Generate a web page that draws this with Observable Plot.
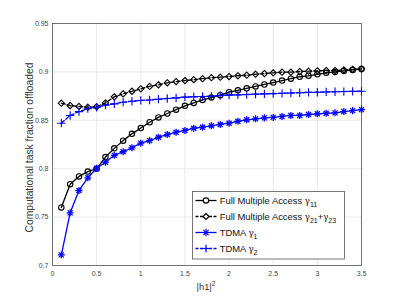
<!DOCTYPE html>
<html>
<head>
<meta charset="utf-8">
<script src="https://cdn.jsdelivr.net/npm/d3@7"></script>
<script src="https://cdn.jsdelivr.net/npm/@observablehq/plot@0.6"></script>
<style>
  html, body { margin: 0; padding: 0; background: #fff; }
  #chart svg { display: block; }
</style>
</head>
<body>
<div id="chart"></div>
<script>
const xs = [0.1,0.2,0.3,0.4,0.5,0.6,0.7,0.8,0.9,1.0,1.1,1.2,1.3,1.4,1.5,1.6,1.7,1.8,1.9,2.0,2.1,2.2,2.3,2.4,2.5,2.6,2.7,2.8,2.9,3.0,3.1,3.2,3.3,3.4,3.5];
const fmaGamma11 = [0.760,0.784,0.792,0.797,0.800,0.812,0.821,0.829,0.836,0.842,0.848,0.853,0.857,0.861,0.865,0.868,0.871,0.8735,0.876,0.879,0.881,0.883,0.885,0.887,0.889,0.891,0.893,0.895,0.896,0.8975,0.899,0.900,0.901,0.902,0.903];
const fmaGamma21_23 = [0.8677,0.8653,0.8643,0.8635,0.864,0.868,0.8742,0.8774,0.880,0.8825,0.885,0.8866,0.8887,0.890,0.891,0.892,0.893,0.894,0.8945,0.8952,0.896,0.8966,0.8976,0.8983,0.899,0.8997,0.8997,0.9004,0.9007,0.9011,0.9014,0.9014,0.902,0.9027,0.903];
const tdmaGamma1 = [0.711,0.7544,0.7775,0.7906,0.8005,0.8067,0.8138,0.8175,0.8216,0.8264,0.829,0.8325,0.8353,0.8377,0.8395,0.8418,0.8429,0.8443,0.8457,0.847,0.849,0.8505,0.8515,0.8525,0.853,0.854,0.855,0.855,0.856,0.8567,0.8573,0.8577,0.859,0.860,0.861];
const tdmaGamma2 = [0.847,0.855,0.859,0.862,0.8635,0.8656,0.867,0.8687,0.8697,0.8705,0.871,0.8718,0.8725,0.8732,0.8739,0.8743,0.8746,0.8749,0.8756,0.876,0.8763,0.8766,0.877,0.8773,0.8776,0.8779,0.8782,0.8785,0.8788,0.879,0.8793,0.8795,0.8797,0.8799,0.880];

const xTicks = [0,0.5,1,1.5,2,2.5,3,3.5];
const yTicks = [0.7,0.75,0.8,0.85,0.9,0.95];
const xLabel = "|h1|";
const yLabel = "Computational task fraction offloaded";

const mk = (ys) => xs.map((x, i) => ({x, y: ys[i]}));
const d11 = mk(fmaGamma11), d21 = mk(fmaGamma21_23), dt1 = mk(tdmaGamma1), dt2 = mk(tdmaGamma2);
const BLUE = "#0000ff";

const chart = Plot.plot({
  width: 399, height: 299,
  marginLeft: 52, marginRight: 38, marginTop: 23, marginBottom: 34,
  style: {fontFamily: "'Liberation Sans', Arial, sans-serif", fontSize: "7px", color: "#333", background: "#fff"},
  x: {domain: [0, 3.5], label: null},
  y: {domain: [0.7, 0.95], label: null},
  marks: [
    Plot.gridX(xTicks, {stroke: "#e3e3e3", strokeOpacity: 1, strokeWidth: 0.8}),
    Plot.gridY(yTicks, {stroke: "#e3e3e3", strokeOpacity: 1, strokeWidth: 0.8}),
    Plot.axisX(xTicks, {tickSize: 0, tickPadding: 6, tickFormat: d => String(d), label: null, fill: "#444"}),
    Plot.axisY(yTicks, {tickSize: 0, tickPadding: 4, tickFormat: d => String(d), label: null, fill: "#444"}),
    Plot.frame({stroke: "#555", strokeWidth: 0.8}),
    Plot.line(d11, {x: "x", y: "y", stroke: "#000", strokeWidth: 1.3}),
    Plot.dot(d11, {x: "x", y: "y", symbol: "circle", r: 2.7, stroke: "#000", strokeWidth: 1.1, fill: "none"}),
    Plot.line(d21, {x: "x", y: "y", stroke: "#000", strokeWidth: 1.3, strokeDasharray: "4,2"}),
    Plot.dot(d21, {x: "x", y: "y", symbol: "diamond2", r: 2.8, stroke: "#000", strokeWidth: 1.1, fill: "none"}),
    Plot.line(dt1, {x: "x", y: "y", stroke: BLUE, strokeWidth: 1.3}),
    Plot.dot(dt1, {x: "x", y: "y", symbol: "plus", r: 2.4, stroke: BLUE, strokeWidth: 1.3}),
    Plot.dot(dt1, {x: "x", y: "y", symbol: "times", r: 2.4, stroke: BLUE, strokeWidth: 1.3}),
    Plot.line(dt2, {x: "x", y: "y", stroke: BLUE, strokeWidth: 1.3, strokeDasharray: "4,2"}),
    Plot.dot(dt2, {x: "x", y: "y", symbol: "plus", r: 2.8, stroke: BLUE, strokeWidth: 1.1})
  ]
});
document.getElementById("chart").appendChild(chart);

const svg = d3.select(chart);
const font = "'Liberation Sans', Arial, sans-serif";

// axis labels
const xl = svg.append("text").attr("x", 206).attr("y", 289.5).attr("text-anchor", "middle")
  .attr("font-family", font).attr("font-size", 9.3).attr("fill", "#333").text(xLabel);
xl.append("tspan").attr("dy", -4).attr("font-size", 6.5).text("2");
svg.append("text").attr("transform", "translate(33,147.5) rotate(-90)").attr("text-anchor", "middle")
  .attr("font-family", font).attr("font-size", 10.3).attr("fill", "#333").text(yLabel);

// legend
const legendItems = [
  {name: "Full Multiple Access ", sub: [["γ", "11"]], color: "#000", dash: null, sym: ["circle"]},
  {name: "Full Multiple Access ", sub: [["γ", "21"], ["+γ", "23"]], color: "#000", dash: "3,1.5", sym: ["diamond2"]},
  {name: "TDMA ", sub: [["γ", "1"]], color: BLUE, dash: null, sym: ["plus", "times"]},
  {name: "TDMA ", sub: [["γ", "2"]], color: BLUE, dash: "3,1.5", sym: ["plus"]}
];
const lg = svg.append("g").attr("text-anchor", "start");
lg.append("rect").attr("x", 192.5).attr("y", 191.5).attr("width", 152).attr("height", 67.5)
  .attr("fill", "#fff").attr("stroke", "#555").attr("stroke-width", 0.8);
const symMap = {circle: d3.symbolCircle, diamond2: d3.symbolDiamond2, plus: d3.symbolPlus, times: d3.symbolTimes};
legendItems.forEach((it, i) => {
  const cy = 200.5 + i * 16;
  const g = lg.append("g");
  g.append("line").attr("x1", 195.5).attr("x2", 216.5).attr("y1", cy).attr("y2", cy)
    .attr("stroke", it.color).attr("stroke-width", 1.3).attr("stroke-dasharray", it.dash);
  it.sym.forEach(s => {
    const rr = (s === "plus" || s === "times") ? 2.5 : 2.7;
    g.append("path").attr("transform", `translate(206,${cy})`)
      .attr("d", d3.symbol(symMap[s], Math.PI * rr * rr)())
      .attr("fill", s === "circle" || s === "diamond2" ? "#fff" : "none")
      .attr("stroke", it.color).attr("stroke-width", 1.2);
  });
  const t = g.append("text").attr("x", 219.8).attr("y", cy + 3.3).attr("text-anchor", "start")
    .attr("font-family", font).attr("font-size", 9.4).attr("fill", "#111").text(it.name);
  it.sub.forEach(([g1, s]) => {
    if (g1.startsWith("+")) {
      t.append("tspan").attr("dy", -3).attr("font-size", 9.4).text("+");
      t.append("tspan").attr("font-family", "'DejaVu Serif', serif").attr("font-size", 8.6).text("γ");
      t.append("tspan").attr("dy", 3).attr("font-size", 7).text(s);
    } else {
      t.append("tspan").attr("font-family", "'DejaVu Serif', serif").attr("font-size", 8.6).text("γ");
      t.append("tspan").attr("dy", 3).attr("font-size", 7).text(s);
    }
  });
});
</script>
</body>
</html>
